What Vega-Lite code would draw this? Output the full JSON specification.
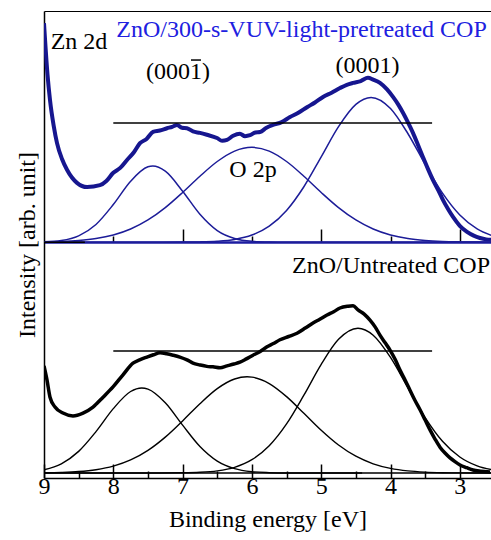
{
  "$schema": "https://vega.github.io/schema/vega-lite/v6.json",
  "width": 447,
  "height": 467,
  "autosize": {"type": "none"},
  "padding": {"left": 44, "top": 11, "right": 0, "bottom": 62},
  "background": "white",
  "config": {
    "view": {"stroke": null},
    "axis": {"labelFont": "Liberation Serif", "titleFont": "Liberation Serif", "labelFontSize": 24, "titleFontSize": 24, "titleFontWeight": "normal", "labelColor": "black", "titleColor": "black", "domainColor": "black", "tickColor": "black", "grid": false, "labelFlush": false, "labelOverlap": false},
    "text": {"font": "Liberation Serif"}
  },
  "datasets": {
    "topSpec": [
      {"E": 9.0, "I": 97.4}, {"E": 8.95, "I": 86.5}, {"E": 8.913, "I": 80.9}, {"E": 8.86, "I": 75.4}, {"E": 8.812, "I": 71.7},
      {"E": 8.74, "I": 68.3}, {"E": 8.668, "I": 66.0}, {"E": 8.524, "I": 63.2}, {"E": 8.379, "I": 62.3}, {"E": 8.192, "I": 62.7},
      {"E": 8.10, "I": 63.6}, {"E": 8.004, "I": 65.3}, {"E": 7.90, "I": 66.4}, {"E": 7.802, "I": 68.1}, {"E": 7.70, "I": 69.8},
      {"E": 7.615, "I": 71.7}, {"E": 7.52, "I": 72.6}, {"E": 7.427, "I": 74.1}, {"E": 7.33, "I": 74.4}, {"E": 7.225, "I": 74.9},
      {"E": 7.15, "I": 75.2}, {"E": 7.081, "I": 75.6}, {"E": 7.01, "I": 75.0}, {"E": 6.937, "I": 74.9}, {"E": 6.85, "I": 74.2},
      {"E": 6.749, "I": 73.9}, {"E": 6.65, "I": 73.5}, {"E": 6.504, "I": 72.8}, {"E": 6.43, "I": 72.2}, {"E": 6.359, "I": 72.4},
      {"E": 6.27, "I": 73.3}, {"E": 6.172, "I": 73.7}, {"E": 6.10, "I": 73.2}, {"E": 6.027, "I": 73.4}, {"E": 5.95, "I": 74.0},
      {"E": 5.883, "I": 74.1}, {"E": 5.79, "I": 75.0}, {"E": 5.696, "I": 75.6}, {"E": 5.57, "I": 76.2}, {"E": 5.45, "I": 77.3},
      {"E": 5.33, "I": 78.2}, {"E": 5.205, "I": 79.4}, {"E": 5.09, "I": 80.4}, {"E": 4.974, "I": 81.6}, {"E": 4.85, "I": 82.5},
      {"E": 4.729, "I": 83.5}, {"E": 4.63, "I": 84.2}, {"E": 4.541, "I": 84.6}, {"E": 4.43, "I": 85.0}, {"E": 4.325, "I": 85.7},
      {"E": 4.25, "I": 85.3}, {"E": 4.152, "I": 84.6}, {"E": 4.05, "I": 83.2}, {"E": 3.964, "I": 81.6}, {"E": 3.89, "I": 80.0},
      {"E": 3.82, "I": 78.2}, {"E": 3.75, "I": 76.2}, {"E": 3.676, "I": 73.9}, {"E": 3.6, "I": 71.2}, {"E": 3.531, "I": 68.7},
      {"E": 3.46, "I": 66.2}, {"E": 3.387, "I": 63.8}, {"E": 3.31, "I": 61.6}, {"E": 3.242, "I": 59.5}, {"E": 3.17, "I": 57.6},
      {"E": 3.098, "I": 55.9}, {"E": 3.0, "I": 54.0}, {"E": 2.896, "I": 52.7}, {"E": 2.8, "I": 51.9}, {"E": 2.709, "I": 51.4},
      {"E": 2.62, "I": 51.1}, {"E": 2.55, "I": 51.0}
    ],
    "botSpec": [
      {"E": 9.0, "I": 24.0}, {"E": 8.957, "I": 21.0}, {"E": 8.913, "I": 17.3}, {"E": 8.841, "I": 15.2}, {"E": 8.726, "I": 13.9},
      {"E": 8.582, "I": 13.3}, {"E": 8.437, "I": 13.9}, {"E": 8.293, "I": 15.2}, {"E": 8.148, "I": 17.3}, {"E": 8.004, "I": 19.5},
      {"E": 7.86, "I": 22.1}, {"E": 7.716, "I": 24.6}, {"E": 7.62, "I": 25.3}, {"E": 7.514, "I": 25.9}, {"E": 7.42, "I": 26.4},
      {"E": 7.326, "I": 26.8}, {"E": 7.23, "I": 26.6}, {"E": 7.139, "I": 26.3}, {"E": 7.04, "I": 25.9}, {"E": 6.937, "I": 25.3},
      {"E": 6.85, "I": 24.6}, {"E": 6.749, "I": 24.2}, {"E": 6.65, "I": 23.9}, {"E": 6.561, "I": 23.8}, {"E": 6.46, "I": 23.6},
      {"E": 6.359, "I": 24.0}, {"E": 6.26, "I": 24.4}, {"E": 6.172, "I": 24.8}, {"E": 6.08, "I": 25.5}, {"E": 5.984, "I": 26.3},
      {"E": 5.88, "I": 27.1}, {"E": 5.782, "I": 28.1}, {"E": 5.69, "I": 28.8}, {"E": 5.595, "I": 29.6}, {"E": 5.47, "I": 30.3},
      {"E": 5.349, "I": 31.0}, {"E": 5.23, "I": 32.1}, {"E": 5.118, "I": 33.2}, {"E": 5.02, "I": 34.0}, {"E": 4.916, "I": 34.9},
      {"E": 4.82, "I": 35.6}, {"E": 4.729, "I": 36.4}, {"E": 4.613, "I": 36.8}, {"E": 4.54, "I": 36.9}, {"E": 4.469, "I": 36.0},
      {"E": 4.38, "I": 35.1}, {"E": 4.296, "I": 33.8}, {"E": 4.22, "I": 32.3}, {"E": 4.152, "I": 30.6}, {"E": 4.08, "I": 29.0},
      {"E": 4.007, "I": 27.4}, {"E": 3.93, "I": 25.3}, {"E": 3.863, "I": 23.1}, {"E": 3.79, "I": 21.0}, {"E": 3.719, "I": 18.8},
      {"E": 3.65, "I": 16.7}, {"E": 3.574, "I": 14.6}, {"E": 3.5, "I": 12.4}, {"E": 3.43, "I": 10.3}, {"E": 3.36, "I": 8.4},
      {"E": 3.286, "I": 6.6}, {"E": 3.21, "I": 5.3}, {"E": 3.141, "I": 4.3}, {"E": 3.07, "I": 3.5}, {"E": 2.997, "I": 2.8},
      {"E": 2.9, "I": 2.2}, {"E": 2.81, "I": 1.7}, {"E": 2.7, "I": 1.45}, {"E": 2.564, "I": 1.3}
    ],
    "topFit": [
      {"comp": "0001bar", "E": 9.0, "I": 50.58}, {"comp": "0001bar", "E": 8.75, "I": 50.87}, {"comp": "0001bar", "E": 8.5, "I": 51.86},
      {"comp": "0001bar", "E": 8.25, "I": 54.29}, {"comp": "0001bar", "E": 8.0, "I": 58.55}, {"comp": "0001bar", "E": 7.75, "I": 63.55},
      {"comp": "0001bar", "E": 7.5, "I": 66.63}, {"comp": "0001bar", "E": 7.43, "I": 66.8}, {"comp": "0001bar", "E": 7.25, "I": 65.69},
      {"comp": "0001bar", "E": 7.0, "I": 61.41}, {"comp": "0001bar", "E": 6.75, "I": 56.48}, {"comp": "0001bar", "E": 6.5, "I": 52.99},
      {"comp": "0001bar", "E": 6.25, "I": 51.29}, {"comp": "0001bar", "E": 6.0, "I": 50.69}, {"comp": "0001bar", "E": 5.75, "I": 50.54},
      {"comp": "0001bar", "E": 5.5, "I": 50.5}, {"comp": "0001bar", "E": 2.5, "I": 50.5},
      {"comp": "O2p", "E": 9.0, "I": 50.56}, {"comp": "O2p", "E": 8.75, "I": 50.65}, {"comp": "O2p", "E": 8.5, "I": 50.86},
      {"comp": "O2p", "E": 8.25, "I": 51.27}, {"comp": "O2p", "E": 8.0, "I": 52.03}, {"comp": "O2p", "E": 7.75, "I": 53.31},
      {"comp": "O2p", "E": 7.5, "I": 55.25}, {"comp": "O2p", "E": 7.25, "I": 57.9}, {"comp": "O2p", "E": 7.0, "I": 61.14},
      {"comp": "O2p", "E": 6.75, "I": 64.62}, {"comp": "O2p", "E": 6.5, "I": 67.77}, {"comp": "O2p", "E": 6.25, "I": 70.0},
      {"comp": "O2p", "E": 6.0, "I": 70.8}, {"comp": "O2p", "E": 5.75, "I": 70.0}, {"comp": "O2p", "E": 5.5, "I": 67.77},
      {"comp": "O2p", "E": 5.25, "I": 64.62}, {"comp": "O2p", "E": 5.0, "I": 61.14}, {"comp": "O2p", "E": 4.75, "I": 57.9},
      {"comp": "O2p", "E": 4.5, "I": 55.25}, {"comp": "O2p", "E": 4.25, "I": 53.31}, {"comp": "O2p", "E": 4.0, "I": 52.03},
      {"comp": "O2p", "E": 3.75, "I": 51.27}, {"comp": "O2p", "E": 3.5, "I": 50.86}, {"comp": "O2p", "E": 3.25, "I": 50.65},
      {"comp": "O2p", "E": 3.0, "I": 50.56}, {"comp": "O2p", "E": 2.75, "I": 50.52}, {"comp": "O2p", "E": 2.5, "I": 50.5},
      {"comp": "0001", "E": 9.0, "I": 50.5}, {"comp": "0001", "E": 7.5, "I": 50.5}, {"comp": "0001", "E": 7.0, "I": 50.52},
      {"comp": "0001", "E": 6.75, "I": 50.56}, {"comp": "0001", "E": 6.5, "I": 50.7}, {"comp": "0001", "E": 6.25, "I": 51.09},
      {"comp": "0001", "E": 6.0, "I": 52.02}, {"comp": "0001", "E": 5.75, "I": 53.92}, {"comp": "0001", "E": 5.5, "I": 57.29},
      {"comp": "0001", "E": 5.25, "I": 62.37}, {"comp": "0001", "E": 5.0, "I": 68.77}, {"comp": "0001", "E": 4.75, "I": 75.24},
      {"comp": "0001", "E": 4.5, "I": 80.01}, {"comp": "0001", "E": 4.28, "I": 81.5}, {"comp": "0001", "E": 4.0, "I": 79.12},
      {"comp": "0001", "E": 3.75, "I": 73.77}, {"comp": "0001", "E": 3.5, "I": 67.16}, {"comp": "0001", "E": 3.25, "I": 61.0},
      {"comp": "0001", "E": 3.0, "I": 56.33}, {"comp": "0001", "E": 2.75, "I": 53.35}, {"comp": "0001", "E": 2.5, "I": 51.72}
    ],
    "botFit": [
      {"comp": "0001bar", "E": 9.0, "I": 1.75}, {"comp": "0001bar", "E": 8.75, "I": 3.04}, {"comp": "0001bar", "E": 8.5, "I": 5.7},
      {"comp": "0001bar", "E": 8.25, "I": 9.93}, {"comp": "0001bar", "E": 8.0, "I": 14.85}, {"comp": "0001bar", "E": 7.75, "I": 18.52},
      {"comp": "0001bar", "E": 7.59, "I": 19.27}, {"comp": "0001bar", "E": 7.5, "I": 19.03}, {"comp": "0001bar", "E": 7.25, "I": 16.1},
      {"comp": "0001bar", "E": 7.0, "I": 11.31}, {"comp": "0001bar", "E": 6.75, "I": 6.74}, {"comp": "0001bar", "E": 6.5, "I": 3.62},
      {"comp": "0001bar", "E": 6.25, "I": 2.01}, {"comp": "0001bar", "E": 6.0, "I": 1.35}, {"comp": "0001bar", "E": 5.75, "I": 1.14},
      {"comp": "0001bar", "E": 5.5, "I": 1.07}, {"comp": "0001bar", "E": 2.5, "I": 1.07},
      {"comp": "O2p", "E": 9.0, "I": 1.12}, {"comp": "O2p", "E": 8.75, "I": 1.2}, {"comp": "O2p", "E": 8.5, "I": 1.38},
      {"comp": "O2p", "E": 8.25, "I": 1.78}, {"comp": "O2p", "E": 8.0, "I": 2.54}, {"comp": "O2p", "E": 7.75, "I": 3.86},
      {"comp": "O2p", "E": 7.5, "I": 5.91}, {"comp": "O2p", "E": 7.25, "I": 8.75}, {"comp": "O2p", "E": 7.0, "I": 12.23},
      {"comp": "O2p", "E": 6.75, "I": 15.91}, {"comp": "O2p", "E": 6.5, "I": 19.14}, {"comp": "O2p", "E": 6.25, "I": 21.2},
      {"comp": "O2p", "E": 6.07, "I": 21.67}, {"comp": "O2p", "E": 6.0, "I": 21.6}, {"comp": "O2p", "E": 5.75, "I": 20.23},
      {"comp": "O2p", "E": 5.5, "I": 17.43}, {"comp": "O2p", "E": 5.25, "I": 13.86}, {"comp": "O2p", "E": 5.0, "I": 10.22},
      {"comp": "O2p", "E": 4.75, "I": 7.06}, {"comp": "O2p", "E": 4.5, "I": 4.66}, {"comp": "O2p", "E": 4.25, "I": 3.04},
      {"comp": "O2p", "E": 4.0, "I": 2.06}, {"comp": "O2p", "E": 3.75, "I": 1.52}, {"comp": "O2p", "E": 3.5, "I": 1.26},
      {"comp": "O2p", "E": 3.25, "I": 1.14}, {"comp": "O2p", "E": 3.0, "I": 1.1}, {"comp": "O2p", "E": 2.5, "I": 1.07},
      {"comp": "0001", "E": 9.0, "I": 1.07}, {"comp": "0001", "E": 7.5, "I": 1.07}, {"comp": "0001", "E": 7.0, "I": 1.12},
      {"comp": "0001", "E": 6.75, "I": 1.22}, {"comp": "0001", "E": 6.5, "I": 1.53}, {"comp": "0001", "E": 6.25, "I": 2.29},
      {"comp": "0001", "E": 6.0, "I": 3.92}, {"comp": "0001", "E": 5.75, "I": 6.9}, {"comp": "0001", "E": 5.5, "I": 11.57},
      {"comp": "0001", "E": 5.25, "I": 17.73}, {"comp": "0001", "E": 5.0, "I": 24.34}, {"comp": "0001", "E": 4.75, "I": 29.69},
      {"comp": "0001", "E": 4.47, "I": 32.07}, {"comp": "0001", "E": 4.25, "I": 30.58}, {"comp": "0001", "E": 4.0, "I": 25.81},
      {"comp": "0001", "E": 3.75, "I": 19.34}, {"comp": "0001", "E": 3.5, "I": 12.94}, {"comp": "0001", "E": 3.25, "I": 7.86},
      {"comp": "0001", "E": 3.0, "I": 4.49}, {"comp": "0001", "E": 2.75, "I": 2.59}, {"comp": "0001", "E": 2.5, "I": 1.66}
    ],
    "hlines": [
      {"E": 8.0, "E2": 3.4, "I": 76.0},
      {"E": 8.0, "E2": 3.4, "I": 27.2},
      {"E": 9.0, "E2": 4.41, "I": 1.07},
      {"E": 9.0, "E2": 8.41, "I": 50.5},
      {"E": 6.879, "E2": 6.735, "I": 89.5}
    ],
    "labels": [
      {"text": "Zn 2d", "E": 8.495, "I": 91.9},
      {"text": "(0001)", "E": 7.066, "I": 85.4},
      {"text": "(0001)", "E": 4.332, "I": 86.7},
      {"text": "O 2p", "E": 5.984, "I": 64.5},
      {"text": "ZnO/Untreated COP", "E": 3.993, "I": 43.9}
    ],
    "blueLabel": [
      {"text": "ZnO/300-s-VUV-light-pretreated COP", "E": 5.284, "I": 94.4}
    ]
  },
  "encoding": {
    "y": {"field": "I", "type": "quantitative", "scale": {"domain": [0, 100], "nice": false, "zero": false},
          "axis": {"title": "Intensity [arb. unit]", "labels": false, "ticks": false, "domainWidth": 1.5, "titlePadding": 5}}
  },
  "layer": [
    {
      "data": {"name": "topSpec"},
      "mark": {"type": "line", "stroke": "#16168f", "strokeWidth": 4, "interpolate": "monotone", "clip": true},
      "encoding": {
        "x": {"field": "E", "type": "quantitative", "scale": {"domain": [9, 2.55], "nice": false, "zero": false},
              "axis": {"orient": "bottom", "offset": -236, "values": [8, 7, 6, 5, 4, 3], "labels": false, "title": null,
                       "domainColor": "#1c1ca0", "domainWidth": 2.5, "tickWidth": 1.5,
                       "tickSize": {"condition": {"test": "datum.value === 7 || datum.value === 5 || datum.value === 3", "value": -13}, "value": -6}}}
      }
    },
    {
      "data": {"name": "topFit"},
      "mark": {"type": "line", "stroke": "#1c1c98", "strokeWidth": 1.5, "interpolate": "monotone", "clip": true},
      "encoding": {
        "x": {"field": "E", "type": "quantitative", "scale": {"domain": [9, 2.55], "nice": false, "zero": false}, "axis": null},
        "detail": {"field": "comp"}
      }
    },
    {
      "data": {"name": "botFit"},
      "mark": {"type": "line", "stroke": "black", "strokeWidth": 1.4, "interpolate": "monotone", "clip": true},
      "encoding": {
        "x": {"field": "E", "type": "quantitative", "scale": {"domain": [9, 2.55], "nice": false, "zero": false},
              "axis": {"orient": "top", "ticks": false, "labels": false, "title": null, "domainWidth": 1.2}},
        "detail": {"field": "comp"}
      }
    },
    {
      "data": {"name": "botSpec"},
      "mark": {"type": "line", "stroke": "black", "strokeWidth": 3.5, "interpolate": "monotone", "clip": true},
      "encoding": {
        "x": {"field": "E", "type": "quantitative", "scale": {"domain": [9, 2.55], "nice": false, "zero": false},
              "axis": {"orient": "bottom", "values": [9, 8.5, 8, 7.5, 7, 6.5, 6, 5.5, 5, 4.5, 4, 3.5, 3],
                       "labelExpr": "datum.value % 1 === 0 ? format(datum.value, 'd') : ''",
                       "tickSize": {"condition": {"test": "datum.value % 1 === 0", "value": -14}, "value": -7},
                       "tickWidth": 1.5, "domainWidth": 1.5, "labelPadding": 10,
                       "title": "Binding energy [eV]", "titlePadding": 2}}
      }
    },
    {
      "data": {"name": "hlines"},
      "mark": {"type": "rule", "stroke": "black", "strokeWidth": 1.5},
      "encoding": {
        "x": {"field": "E", "type": "quantitative", "scale": {"domain": [9, 2.55], "nice": false, "zero": false}, "axis": null},
        "x2": {"field": "E2"}
      }
    },
    {
      "data": {"name": "labels"},
      "mark": {"type": "text", "font": "Liberation Serif", "fontSize": 24, "color": "black", "align": "center", "baseline": "alphabetic"},
      "encoding": {
        "x": {"field": "E", "type": "quantitative", "scale": {"domain": [9, 2.55], "nice": false, "zero": false}, "axis": null},
        "text": {"field": "text"}
      }
    },
    {
      "data": {"name": "blueLabel"},
      "mark": {"type": "text", "font": "Liberation Serif", "fontSize": 24, "color": "#2020e0", "align": "center", "baseline": "alphabetic"},
      "encoding": {
        "x": {"field": "E", "type": "quantitative", "scale": {"domain": [9, 2.55], "nice": false, "zero": false}, "axis": null},
        "text": {"field": "text"}
      }
    }
  ],
  "resolve": {"axis": {"x": "independent"}}
}
